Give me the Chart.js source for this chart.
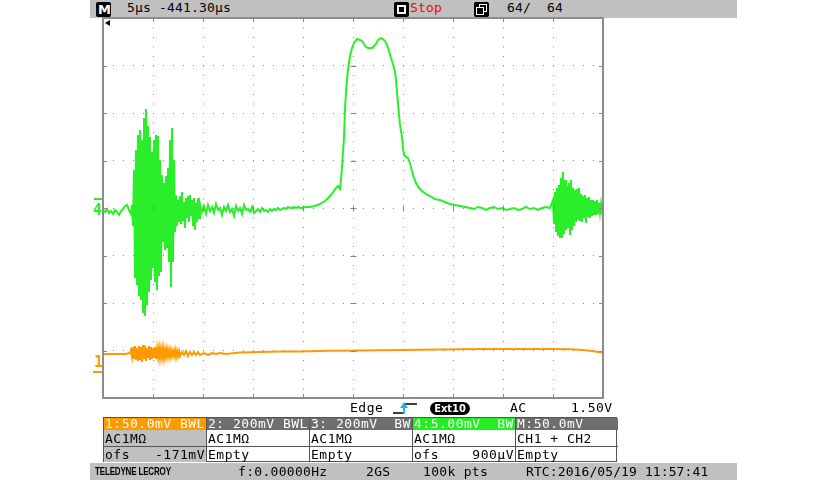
<!DOCTYPE html>
<html lang="en">
<head>
    <meta charset="UTF-8">
    <title>LeCroy capture</title>
    <style>
        body {
            margin: 0;
            width: 828px;
            height: 480px;
            background: #fff;
            position: relative;
            overflow: hidden;
            font-family: "DejaVu Sans Mono", monospace;
            font-size: 13px;
        }
        .abs { position: absolute; white-space: pre; line-height: 16px; }
        .bar { position: absolute; left: 90px; width: 647px; background: #c0c0c0; }
        .top { letter-spacing: 0.17px; color: #000; }
        .icon { position: absolute; width: 15px; height: 15px; background: #000; border-radius: 2px; }
        #scope { position: absolute; left: 93px; top: 8px; }
        .tbl { position: absolute; top: 417px; left: 103px; width: 514px; height: 45px; border: 1px solid #555; box-sizing: border-box; }
        .col { position: absolute; top: 0; height: 44px; border-right: 1px solid #555; box-sizing: border-box; }
        .col div { height: 15px; line-height: 15px; padding: 0 1px; letter-spacing: 0.5px; white-space: pre; display: flex; justify-content: space-between; }
        .col .hd { color: #fff; height: 12px; line-height: 12px; }
        .col .r2 { border-bottom: 1px solid #555; height: 16px; line-height: 17px; }
        .col .r3 { height: 16px; line-height: 16px; }
        .status { letter-spacing: 0.3px; }
    </style>
</head>
<body>
    <!-- top status bar -->
    <div class="bar" style="top:0;height:18px;"></div>
    <div class="icon" style="left:96px;top:2px;"><span style="position:absolute;left:2px;top:0;color:#fff;font:bold 13px 'DejaVu Sans';line-height:15px;">M</span></div>
    <div class="abs top" style="left:127px;top:0;">5µs -441.30µs</div>
    <div class="icon" style="left:394px;top:2px;"><div style="position:absolute;left:3px;top:3px;width:5px;height:5px;border:2px solid #fff;"></div></div>
    <div class="abs top" style="left:410px;top:0;color:#ff0000;">Stop</div>
    <div class="icon" style="left:474px;top:2px;">
        <div style="position:absolute;left:5px;top:2px;width:6px;height:6px;border:1px solid #fff;"></div>
        <div style="position:absolute;left:2px;top:5px;width:6px;height:6px;border:1px solid #fff;background:#000;"></div>
    </div>
    <div class="abs top" style="left:507px;top:0;">64/  64</div>

    <canvas id="scope" width="520" height="400"></canvas>

    <!-- trigger position and channel markers -->
    <div style="position:absolute;left:105px;top:20px;width:0;height:0;border-top:3.5px solid transparent;border-bottom:3.5px solid transparent;border-right:5px solid #000;"></div>
    <div style="position:absolute;left:94px;top:198px;width:8px;height:2px;background:#2bee2b;"></div>
    <div class="abs" style="left:93px;top:202px;color:#2bee2b;font-weight:bold;font-size:15px;">4</div>
    <div class="abs" style="left:94px;top:354px;color:#ff9900;font-weight:bold;font-size:15px;">1</div>
    <div style="position:absolute;left:93px;top:371px;width:9px;height:2px;background:#ff9900;"></div>

    <!-- trigger line -->
    <div class="abs" style="left:350px;top:400px;letter-spacing:0.5px;">Edge</div>
    <svg style="position:absolute;left:392px;top:400px;" width="26" height="16">
        <polyline points="1,13 12,13 12,4 25,4" fill="none" stroke="#000" stroke-width="1.3"/>
        <line x1="12" y1="14" x2="12" y2="6" stroke="#1fb8e8" stroke-width="2"/>
        <polygon points="8,8 16,8 12,2" fill="#1fb8e8"/>
    </svg>
    <div style="position:absolute;left:430px;top:402px;width:40px;height:13px;background:#000;border-radius:7px;color:#fff;font:bold 11px 'DejaVu Sans Condensed','DejaVu Sans';line-height:13px;text-align:center;">Ext10</div>
    <div class="abs" style="left:510px;top:400px;letter-spacing:0.5px;">AC</div>
    <div class="abs" style="left:571px;top:400px;letter-spacing:0.5px;">1.50V</div>

    <!-- channel table -->
    <div class="tbl">
        <div class="col" style="left:0;width:103px;background:#c0c0c0;">
            <div class="hd" style="background:#ff9900;">1:50.0mV BWL</div>
            <div class="r2">AC1MΩ</div>
            <div class="r3"><span>ofs</span><span>-171mV</span></div>
        </div>
        <div class="col" style="left:103px;width:103px;">
            <div class="hd" style="background:#6e6e6e;">2: 200mV BWL</div>
            <div class="r2">AC1MΩ</div>
            <div class="r3">Empty</div>
        </div>
        <div class="col" style="left:206px;width:103px;">
            <div class="hd" style="background:#6e6e6e;">3: 200mV  BW</div>
            <div class="r2">AC1MΩ</div>
            <div class="r3">Empty</div>
        </div>
        <div class="col" style="left:309px;width:103px;">
            <div class="hd" style="background:#22ee22;">4:5.00mV  BW</div>
            <div class="r2">AC1MΩ</div>
            <div class="r3"><span>ofs</span><span>900µV</span></div>
        </div>
        <div class="col" style="left:412px;width:102px;border-right:none;">
            <div class="hd" style="background:#6e6e6e;">M:50.0mV</div>
            <div class="r2">CH1 + CH2</div>
            <div class="r3">Empty</div>
        </div>
    </div>

    <!-- bottom status bar -->
    <div class="bar" style="top:463px;height:17px;"></div>
    <div class="abs" style="left:95px;top:464px;font:bold 10px 'Liberation Sans';line-height:16px;transform:scaleX(0.8);transform-origin:left;letter-spacing:-0.2px;">TELEDYNE LECROY</div>
    <div class="abs status" style="left:238px;top:464px;">f:0.00000Hz</div>
    <div class="abs status" style="left:366px;top:464px;">2GS</div>
    <div class="abs status" style="left:423px;top:464px;">100k pts</div>
    <div class="abs status" style="left:526px;top:464px;letter-spacing:0.1px;">RTC:2016/05/19 11:57:41</div>

    <script src="https://cdn.jsdelivr.net/npm/chart.js@4"></script>
    <script>
        // time in µs from the left edge of the screen (center = -441.30 µs, 5 µs/div)
        // channel 4: 5 mV/div, values in mV
        const ch4Time = [
            0, 0.2, 0.4, 0.6, 0.8, 1.0, 1.2, 1.4, 1.6, 1.8, 2.0, 2.2, 2.4, 2.6, 2.8,
            2.9, 3.0, 3.1, 3.2, 3.3, 3.4, 3.5, 3.6, 3.7, 3.8, 3.9, 4.0, 4.1, 4.2, 4.3, 4.4, 4.5, 4.6, 4.7, 4.8,
            4.9, 5.0, 5.1, 5.2, 5.3, 5.4, 5.5, 5.6, 5.7, 5.8, 5.9, 6.0, 6.1, 6.2, 6.3, 6.4, 6.5, 6.6, 6.7, 6.8,
            6.9, 7.0, 7.1, 7.2, 7.3, 7.4, 7.5, 7.6, 7.7, 7.8, 7.9, 8.0, 8.1, 8.2, 8.3, 8.4, 8.5, 8.6, 8.7, 8.8,
            8.9, 9.0, 9.1, 9.2, 9.3, 9.4, 9.5, 9.6, 9.7,
            9.9, 10.1, 10.3, 10.5, 10.7, 10.9, 11.1, 11.3, 11.5, 11.7, 11.9, 12.1, 12.3, 12.5, 12.7, 12.9, 13.1,
            13.3, 13.5, 13.7, 13.9, 14.1, 14.3, 14.5, 14.7, 14.9, 15.1, 15.3, 15.5, 15.7, 15.9, 16.1, 16.3, 16.5,
            16.7, 16.9, 17.1, 17.3, 17.5, 17.7, 17.9, 18.1, 18.3, 18.5, 18.7, 18.9, 19.1, 19.3, 19.5, 19.7,
            19.9, 20.3, 20.7, 21.1, 21.5, 21.9, 22.2, 22.5, 22.8, 23.1, 23.3, 23.5, 23.7, 23.8, 23.9, 24.0, 24.1,
            24.2, 24.3, 24.4, 24.5, 24.6, 24.7, 24.9, 25.1, 25.4, 25.7, 25.9, 26.1, 26.3, 26.5, 26.7, 26.9, 27.1,
            27.3, 27.5, 27.8, 28.0, 28.2, 28.4, 28.6, 28.8, 29.0, 29.2, 29.3, 29.4, 29.5, 29.6, 29.7, 29.9, 30.0,
            30.1, 30.3, 30.5, 30.7, 30.9, 31.1, 31.3, 31.6, 31.9, 32.3, 32.7, 33.2, 33.7, 34.2, 34.7, 35.2, 35.7,
            36.2, 36.7,
            37.1, 37.5, 37.9, 38.3, 38.7, 39.1, 39.5, 39.9, 40.3, 40.7, 41.1, 41.5, 41.9, 42.3, 42.7, 43.1, 43.5,
            43.9, 44.3, 44.7,
            45.0, 45.1, 45.2, 45.3, 45.4, 45.5, 45.6, 45.7, 45.8, 45.9, 46.0, 46.1, 46.2, 46.3, 46.4, 46.5, 46.6,
            46.7, 46.8, 46.9, 47.0, 47.1, 47.2, 47.3, 47.4, 47.5, 47.6, 47.7, 47.8, 47.9, 48.0, 48.1, 48.2, 48.3,
            48.4, 48.5, 48.6, 48.7, 48.8, 48.9, 49.0, 49.1, 49.2, 49.3, 49.4, 49.5, 49.6, 49.7, 49.8, 49.9, 50.0
        ];
        const ch4Mv = [
            -0.21, -0.42, -0.11, -0.53, -0.32, -0.63, -0.21, -0.42, -0.74, -0.32, -0.11, 0.21, 0.32, -0.21, -0.63,
            0.32, -1.89, 4.00, -7.37, 6.11, -8.11, 7.68, -9.26, 8.21, -9.68, 7.16, -10.95, 9.47, -11.37, 10.42,
            -10.21, 8.63, -8.84, 7.47, -7.58, 5.89, -6.32, 7.16, -7.79, 7.68, -8.63, 7.58, -7.16, 5.05, -6.74,
            3.47, -3.58, 2.63, -4.42, 3.37, -4.21, 4.21, -5.68, 7.16, -8.32, 8.42, -5.68, 5.05, -2.53, 1.37,
            -1.89, 0.84, -1.47, 1.26, -1.68, 1.68, -1.37, 0.63, -2.11, 1.05, -1.05, 1.26, -1.47, 1.37, -0.84,
            0.84, -1.89, 1.05, -2.32, 0.53, -1.47, 1.05, -1.05, 0.42,
            -0.42, 0.21, -0.63, 0.32, -0.32, 0.11, -0.53, 0.42, -0.21, 0, -0.74, 0.11, -0.32, 0.32, -0.42, -0.11,
            -0.84, 0.21, -0.32, 0, -0.63, 0.32, -0.21, -0.11, -0.42, 0.11, -0.53, -0.32, -0.11, -0.42, 0, -0.32,
            -0.21, -0.42, -0.11, -0.32, -0.11, -0.21, 0, -0.21, -0.11, 0, -0.11, 0.11, 0, 0, 0.11, 0, 0.11, 0,
            0, 0.11, 0.11, 0.21, 0.32, 0.53, 0.74, 1.05, 1.37, 1.79, 2.11, 2.32, 2.00, 2.95, 4.32, 5.89, 7.37,
            10.32, 12.21, 13.47, 14.53, 15.26, 16.00, 16.84, 17.37, 17.79, 17.68, 17.58, 17.26, 16.95, 16.84,
            16.84, 16.84, 17.05, 17.26, 17.68, 17.89, 17.79, 17.58, 17.16, 16.53, 15.79, 15.16, 14.32, 13.47,
            12.21, 11.05, 9.79, 8.74, 7.47, 6.32, 5.58, 5.37, 5.26, 4.74, 3.89, 3.16, 2.63, 2.11, 1.79, 1.47,
            1.26, 0.95, 0.84, 0.63, 0.42, 0.32, 0.21, 0.11, 0,
            -0.11, 0.11, 0, -0.21, 0, 0.11, -0.11, 0, -0.21, -0.11, 0, -0.21, -0.11, 0.11, -0.11, 0, -0.21, 0,
            0.11, 0,
            0.84, -1.68, 1.68, -2.53, 2.11, -2.95, 2.42, -3.05, 3.16, -3.16, 3.79, -2.74, 2.95, -2.32, 2.32,
            -2.11, 2.63, -2.84, 2.95, -2.32, 2.11, -1.89, 1.89, -1.47, 2.00, -1.26, 2.11, -1.37, 1.47, -1.47,
            1.26, -1.05, 1.37, -1.58, 1.05, -0.95, 1.16, -1.05, 0.84, -0.84, 0.84, -0.74, 0.74, -0.74, 0.84,
            -0.63, 0.53, -0.53, 0.42, -0.42, -0.21
        ];

        // channel 1: 50 mV/div, values in mV (AC coupled)
        const ch1Time = [
            0, 1.2, 2.2, 2.7,
            2.8, 2.9, 3.0, 3.1, 3.2, 3.3, 3.4, 3.5, 3.6, 3.7, 3.8, 3.9, 4.0, 4.1, 4.2, 4.3, 4.4, 4.5, 4.6, 4.7,
            4.8, 4.9, 5.0, 5.1, 5.2, 5.3, 5.4, 5.5, 5.6, 5.7, 5.8, 5.9, 6.0, 6.1, 6.2, 6.3, 6.4, 6.5, 6.6, 6.7,
            6.8, 6.9, 7.0, 7.1, 7.2, 7.3, 7.4, 7.5, 7.6, 7.7,
            7.9, 8.1, 8.3, 8.5, 8.7, 8.9, 9.1, 9.3, 9.5, 9.7,
            10.1, 10.5, 10.9, 11.3, 11.7, 12.3,
            13.7, 15.7, 17.7, 19.7, 22.7, 25.7, 29.7, 33.7, 37.7, 41.7, 45.2, 46.7, 48.0, 48.9, 49.7, 50.0
        ];
        const ch1Mv = [
            0, 0, 0, 1.05,
            4.21, -3.16, 7.37, -5.26, 8.42, -6.32, 6.32, -7.37, 8.42, -6.32,
            7.37, -8.42, 9.47, -5.26, 8.42, -7.37, 6.32, -4.21, 8.42, -6.32,
            7.37, -5.26, 6.32, -4.21, 7.37, -5.26, 5.26, -3.16, 6.32, -4.21,
            5.26, -3.16, 6.32, -4.21, 4.21, -3.16, 5.26, -2.11, 4.21, -3.16,
            4.21, -2.11, 3.16, -2.11, 4.21, -3.16, 3.16, -2.11, 3.16, -2.11,
            2.11, -1.05, 3.16, -2.11, 2.11, -1.05, 2.11, -1.05, 2.11, -1.05,
            1.05, -1.05, 1.05, 0, 1.05, 0,
            1.58, 2.11, 2.63, 2.63, 3.47, 3.68, 4.21, 4.74, 5.26, 5.26, 5.26, 4.95, 4.21, 3.16, 1.79, 1.37
        ];

        const ch4PerDiv = 5;     // mV/div
        const ch1PerDiv = 50;    // mV/div
        const ch1Pos = -153.7;   // trace position on screen, mV

        const toPoints = (t, v) => t.map((x, i) => ({ x: x, y: v[i] }));

        // border, edge ticks and center-cross ticks
        const frame = {
            id: 'frame',
            afterDraw(chart) {
                const { ctx, chartArea: a, scales } = chart;
                const x = scales.x, y = scales.y;
                const cx = Math.round(x.getPixelForValue(25)) + 0.5;
                const cy = Math.round(y.getPixelForValue(0)) + 0.5;
                ctx.save();
                ctx.strokeStyle = '#888';
                ctx.lineWidth = 1;
                ctx.beginPath();
                for (let t = 5; t < 50; t += 5) {
                    const px = Math.round(x.getPixelForValue(t)) + 0.5;
                    ctx.moveTo(px, a.top); ctx.lineTo(px, a.top + 4);
                    ctx.moveTo(px, a.bottom); ctx.lineTo(px, a.bottom - 4);
                    ctx.moveTo(px, cy - 3); ctx.lineTo(px, cy + 3);
                }
                for (let v = -15; v < 20; v += 5) {
                    const py = Math.round(y.getPixelForValue(v)) + 0.5;
                    ctx.moveTo(a.left, py); ctx.lineTo(a.left + 4, py);
                    ctx.moveTo(a.right, py); ctx.lineTo(a.right - 4, py);
                    ctx.moveTo(cx - 3, py); ctx.lineTo(cx + 3, py);
                }
                ctx.stroke();
                ctx.lineWidth = 2;
                ctx.strokeStyle = '#8c8c8c';
                ctx.strokeRect(a.left, a.top, a.right - a.left, a.bottom - a.top);
                ctx.restore();
            }
        };

        new Chart(document.getElementById('scope').getContext('2d'), {
            type: 'line',
            data: {
                datasets: [{
                    label: 'C1',
                    data: toPoints(ch1Time, ch1Mv),
                    yAxisID: 'y1',
                    borderColor: '#ff9900',
                    borderWidth: 2,
                    pointRadius: 0,
                    tension: 0
                }, {
                    label: 'C4',
                    data: toPoints(ch4Time, ch4Mv),
                    yAxisID: 'y',
                    borderColor: '#2bee2b',
                    borderWidth: 2,
                    pointRadius: 0,
                    tension: 0
                }]
            },
            options: {
                responsive: false,
                animation: false,
                events: [],
                layout: { padding: 10 },
                plugins: { legend: { display: false }, tooltip: { enabled: false } },
                scales: {
                    x: {
                        type: 'linear',
                        min: 0,
                        max: 50,
                        ticks: { display: false, stepSize: 5 },
                        grid: { color: '#8a8a8a', drawTicks: false, lineWidth: 1 },
                        border: { display: false, dash: [1, 8.5] }
                    },
                    y: {
                        min: -4 * ch4PerDiv,
                        max: 4 * ch4PerDiv,
                        ticks: { display: false, stepSize: ch4PerDiv },
                        grid: { color: '#8a8a8a', drawTicks: false, lineWidth: 1 },
                        border: { display: false, dash: [1, 9] }
                    },
                    y1: {
                        display: false,
                        min: -4 * ch1PerDiv - ch1Pos,
                        max: 4 * ch1PerDiv - ch1Pos
                    }
                }
            },
            plugins: [frame]
        });
    </script>
</body>
</html>
